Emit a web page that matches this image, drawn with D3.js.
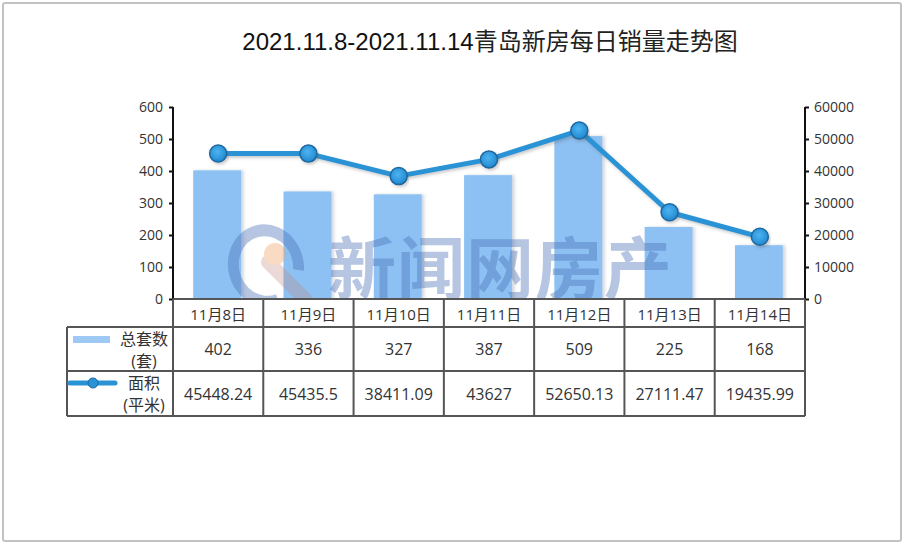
<!DOCTYPE html>
<html>
<head>
<meta charset="utf-8">
<script src="https://cdn.jsdelivr.net/npm/d3@7/dist/d3.min.js"></script>
<style>
  html, body { margin: 0; padding: 0; background: #fff; }
  svg { display: block; }
  text { font-family: "Open Sans", "Noto Sans CJK SC", sans-serif; fill: #333; }
</style>
</head>
<body>
<svg id="chart" width="904" height="545"></svg>
<script>
// ---- data ----
const title = "2021.11.8-2021.11.14青岛新房每日销量走势图";
const categories = ["11月8日", "11月9日", "11月10日", "11月11日", "11月12日", "11月13日", "11月14日"];
const units = [402, 336, 327, 387, 509, 225, 168];
const areas = [45448.24, 45435.5, 38411.09, 43627, 52650.13, 27111.47, 19435.99];
const leftTicks = [0, 100, 200, 300, 400, 500, 600];
const rightTicks = [0, 10000, 20000, 30000, 40000, 50000, 60000];
const seriesUnits = ["总套数", "(套)"];
const seriesArea = ["面积", "(平米)"];
const watermark = "新闻网房产";

// ---- layout ----
const svg = d3.select("#chart");
const L = 173, R = 805, T = 107, B = 299;
const tableLeft = 67;
const rowY = [299, 327, 371, 416];

const defs = svg.append("defs");
const sh = defs.append("filter").attr("id", "barShadow").attr("x", "-20%").attr("y", "-10%").attr("width", "150%").attr("height", "120%");
sh.append("feDropShadow").attr("dx", 2.5).attr("dy", 0).attr("stdDeviation", 1.5).attr("flood-color", "#7a8aa0").attr("flood-opacity", 0.35);
const lsh = defs.append("filter").attr("id", "lineShadow").attr("x", "-10%").attr("y", "-20%").attr("width", "120%").attr("height", "150%");
lsh.append("feDropShadow").attr("dx", 1.5).attr("dy", 2).attr("stdDeviation", 1.5).attr("flood-color", "#555").attr("flood-opacity", 0.3);
const rg = defs.append("radialGradient").attr("id", "dotGrad").attr("cx", "45%").attr("cy", "40%").attr("r", "60%");
rg.append("stop").attr("offset", "0%").attr("stop-color", "#4db4f2");
rg.append("stop").attr("offset", "100%").attr("stop-color", "#2088cf");
defs.append("clipPath").attr("id", "plotClip").append("rect").attr("x", 0).attr("y", 0).attr("width", 904).attr("height", B);

// outer frame
svg.append("rect").attr("x", 3).attr("y", 3).attr("width", 898).attr("height", 538).attr("rx", 2)
  .attr("fill", "#fff").attr("stroke", "#c2c2c2").attr("stroke-width", 2);

// title
const titleG = svg.append("text").attr("x", 490).attr("y", 50).attr("text-anchor", "middle")
  .style("font-size", "24px");
titleG.append("tspan").style("font-family", "'Liberation Sans', Arial, sans-serif").style("fill", "#111").text(title.slice(0, 20));
titleG.append("tspan").style("font-family", "'Noto Sans CJK SC', sans-serif").style("fill", "#222").text(title.slice(20));

// scales
const x = d3.scaleBand().domain(categories).range([L, R]).padding(0);
const yL = d3.scaleLinear().domain([0, 600]).range([B, T]);
const yR = d3.scaleLinear().domain([0, 60000]).range([B, T]);
const bw = x.bandwidth() * 0.53;

// bars
svg.append("g").selectAll("rect").data(units).join("rect")
  .attr("x", (d, i) => x(categories[i]) + (x.bandwidth() - bw) / 2 - 1)
  .attr("y", d => yL(d))
  .attr("width", bw)
  .attr("height", d => B - yL(d))
  .attr("fill", "#8dc1f3")
  .attr("filter", "url(#barShadow)");

// watermark
const wm = svg.append("g").attr("opacity", 0.4).attr("clip-path", "url(#plotClip)");
const arc = d3.arc().innerRadius(30).outerRadius(42).startAngle(175 * Math.PI / 180).endAngle(470 * Math.PI / 180);
wm.append("path").attr("d", arc()).attr("transform", "translate(266,266) rotate(-15) scale(0.9,1)").attr("fill", "#4a6fb5");
wm.append("path").attr("d", "M268,262 L306,300").attr("stroke", "#c08a80").attr("stroke-width", 14).attr("stroke-linecap", "round").attr("opacity", 0.8);
wm.append("circle").attr("cx", 275).attr("cy", 254).attr("r", 11).attr("fill", "#f2a468");
wm.append("text").attr("x", 328).attr("y", 294).style("font-family", "'Noto Sans CJK SC', sans-serif")
  .style("font-size", "68px").style("font-weight", "bold").style("fill", "#4a6fb5").style("letter-spacing", "1px")
  .text(watermark);

// line
const line = d3.line().x((d, i) => x(categories[i]) + x.bandwidth() / 2).y(d => yR(d));
svg.append("path").datum(areas).attr("d", line).attr("fill", "none")
  .attr("stroke", "#2a93d6").attr("stroke-width", 5).attr("stroke-linejoin", "round")
  .attr("filter", "url(#lineShadow)");
svg.append("g").selectAll("circle").data(areas).join("circle")
  .attr("cx", (d, i) => x(categories[i]) + x.bandwidth() / 2)
  .attr("cy", d => yR(d))
  .attr("r", 8.5)
  .attr("fill", "url(#dotGrad)")
  .attr("stroke", "#1d68a0").attr("stroke-width", 1.5)
  .attr("filter", "url(#lineShadow)");

// axes
const axL = svg.append("g").attr("transform", `translate(${L},0)`)
  .call(d3.axisLeft(yL).tickValues(leftTicks).tickFormat(d3.format("d")).tickSize(4).tickSizeOuter(0).tickPadding(6));
const axR = svg.append("g").attr("transform", `translate(${R},0)`)
  .call(d3.axisRight(yR).tickValues(rightTicks).tickFormat(d3.format("d")).tickSize(4).tickSizeOuter(0).tickPadding(5));
[axL, axR].forEach(a => {
  a.select(".domain").attr("stroke", "#111").attr("stroke-width", 2);
  a.selectAll(".tick line").attr("stroke", "#111").attr("stroke-width", 2);
  a.selectAll(".tick text").style("font-family", "'Open Sans', sans-serif").style("font-size", "14px").attr("fill", "#333");
});
axL.select(".domain").attr("d", `M0,${T}V${B}`);
axR.select(".domain").attr("d", `M0,${T}V${B}`);

// table
const tg = svg.append("g");
const grid = "#555";
tg.append("rect").attr("x", L).attr("y", rowY[0]).attr("width", R - L).attr("height", rowY[1] - rowY[0]).attr("fill", "#fff");
tg.append("rect").attr("x", tableLeft).attr("y", rowY[1]).attr("width", R - tableLeft).attr("height", rowY[3] - rowY[1]).attr("fill", "#fff");
tg.append("line").attr("x1", L).attr("x2", R).attr("y1", rowY[0]).attr("y2", rowY[0]).attr("stroke", grid).attr("stroke-width", 2);
[1, 2, 3].forEach(r => tg.append("line").attr("x1", tableLeft).attr("x2", R).attr("y1", rowY[r]).attr("y2", rowY[r]).attr("stroke", grid).attr("stroke-width", 2));
tg.append("line").attr("x1", tableLeft).attr("x2", tableLeft).attr("y1", rowY[1]).attr("y2", rowY[3]).attr("stroke", grid).attr("stroke-width", 2);
categories.forEach(c => tg.append("line").attr("x1", x(c)).attr("x2", x(c)).attr("y1", rowY[0]).attr("y2", rowY[3]).attr("stroke", grid).attr("stroke-width", 2));
tg.append("line").attr("x1", R).attr("x2", R).attr("y1", rowY[0]).attr("y2", rowY[3]).attr("stroke", grid).attr("stroke-width", 2);

// header
tg.selectAll("text.hdr").data(categories).join("text").attr("class", "hdr")
  .attr("x", d => x(d) + x.bandwidth() / 2).attr("y", (rowY[0] + rowY[1]) / 2 + 1)
  .attr("text-anchor", "middle").attr("dominant-baseline", "central").style("font-size", "15px").text(d => d);
// values
tg.selectAll("text.u").data(units).join("text").attr("class", "u")
  .attr("x", (d, i) => x(categories[i]) + x.bandwidth() / 2).attr("y", (rowY[1] + rowY[2]) / 2)
  .attr("text-anchor", "middle").attr("dominant-baseline", "central").style("font-size", "16px").text(d => String(d));
tg.selectAll("text.a").data(areas).join("text").attr("class", "a")
  .attr("x", (d, i) => x(categories[i]) + x.bandwidth() / 2).attr("y", (rowY[2] + rowY[3]) / 2)
  .attr("text-anchor", "middle").attr("dominant-baseline", "central").style("font-size", "16px").text(d => String(d));

// legend cells
tg.append("rect").attr("x", 73).attr("y", 336).attr("width", 37).attr("height", 7).attr("fill", "#9dc9f4");
tg.append("line").attr("x1", 70).attr("x2", 115).attr("y1", 383).attr("y2", 383).attr("stroke", "#2a93d6").attr("stroke-width", 5).attr("stroke-linecap", "round");
tg.append("circle").attr("cx", 93).attr("cy", 383).attr("r", 5).attr("fill", "#2a93d6").attr("stroke", "#1d68a0").attr("stroke-width", 1);
[[seriesUnits, 339, 361], [seriesArea, 383, 405]].forEach(([lab, y1, y2]) => {
  tg.append("text").attr("x", 144).attr("y", y1).attr("text-anchor", "middle").attr("dominant-baseline", "central").style("font-size", "16px").text(lab[0]);
  tg.append("text").attr("x", 144).attr("y", y2).attr("text-anchor", "middle").attr("dominant-baseline", "central").style("font-size", "16px").text(lab[1]);
});
</script>
</body>
</html>
